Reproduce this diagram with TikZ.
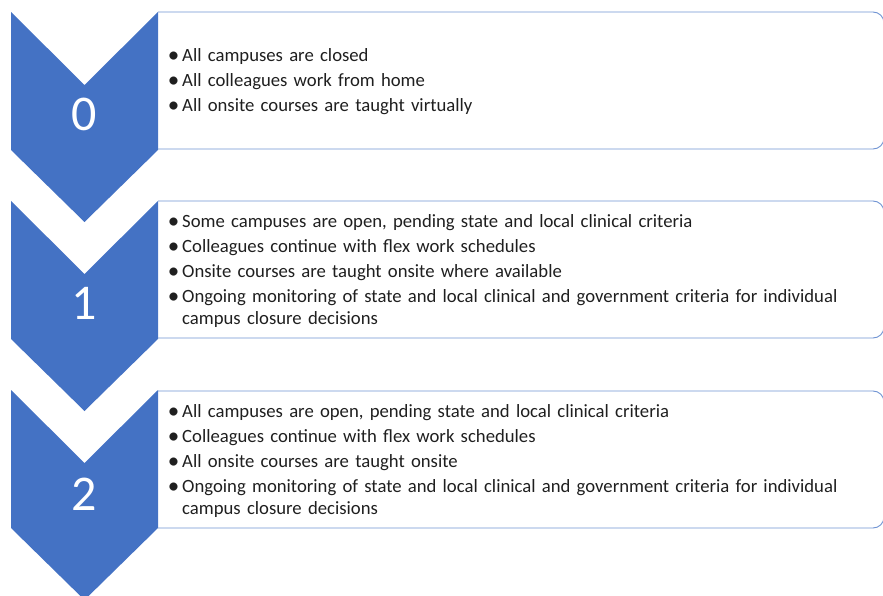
\documentclass[tikz,border=0pt]{standalone}
\usepackage{fontspec}
\setmainfont{Carlito}
\definecolor{chev}{HTML}{4472C4}
\definecolor{boxline}{HTML}{6F93D3}
\newcommand\bitem[1]{\par\noindent\hangindent=15pt\hangafter=1\makebox[15pt][l]{\makebox[13pt][c]{\raisebox{-1.5pt}{\fontsize{23}{22}\selectfont•}}}#1}
\begin{document}
\begin{tikzpicture}[x=1pt,y=-1pt,
  chevshape/.style={fill=chev, draw=none},
  stagebox/.style={draw=boxline, line width=0.9pt},
  numlabel/.style={text=white, font=\fontsize{50}{60}\selectfont, inner sep=0pt},
  bullets/.style={anchor=west, inner sep=0pt, text width=705pt, align=left,
    font=\fontsize{18.7}{22}\selectfont\setlength\parskip{3pt}, text=black!88}]
\useasboundingbox (0,0) rectangle (883,596);

% chevrons
\foreach \t in {12,201,390}{
  \fill[chevshape] (11,\t) -- (84.5,\t+73) -- (158,\t) -- (158,\t+138)
    -- (84.5,\t+210) -- (11,\t+138) -- cycle;
}
% boxes
\foreach \t in {12,201,391}{
  \draw[stagebox] (158,\t) -- (873,\t) arc[start angle=-90, end angle=0, radius=11]
    -- (884,\t+126) arc[start angle=0, end angle=90, radius=11] -- (158,\t+137);
}

\node[numlabel] (n0) at (84.5,114) {0};
\node[numlabel] (n1) at (84.5,303) {1};
\node[numlabel] (n2) at (84.5,494) {2};

\node[bullets] (t0) at (167,75.5) {\raggedright
\bitem{All campuses are closed}
\bitem{All colleagues work from home}
\bitem{All onsite courses are taught virtually}\par};

\node[bullets] (t1) at (167,265) {\raggedright
\bitem{Some campuses are open, pending state and local clinical criteria}
\bitem{Colleagues continue with flex work schedules}
\bitem{Onsite courses are taught onsite where available}
\bitem{Ongoing monitoring of state and local clinical and government criteria for individual campus closure decisions}\par};

\node[bullets] (t2) at (167,455) {\raggedright
\bitem{All campuses are open, pending state and local clinical criteria}
\bitem{Colleagues continue with flex work schedules}
\bitem{All onsite courses are taught onsite}
\bitem{Ongoing monitoring of state and local clinical and government criteria for individual campus closure decisions}\par};
\end{tikzpicture}
\end{document}
